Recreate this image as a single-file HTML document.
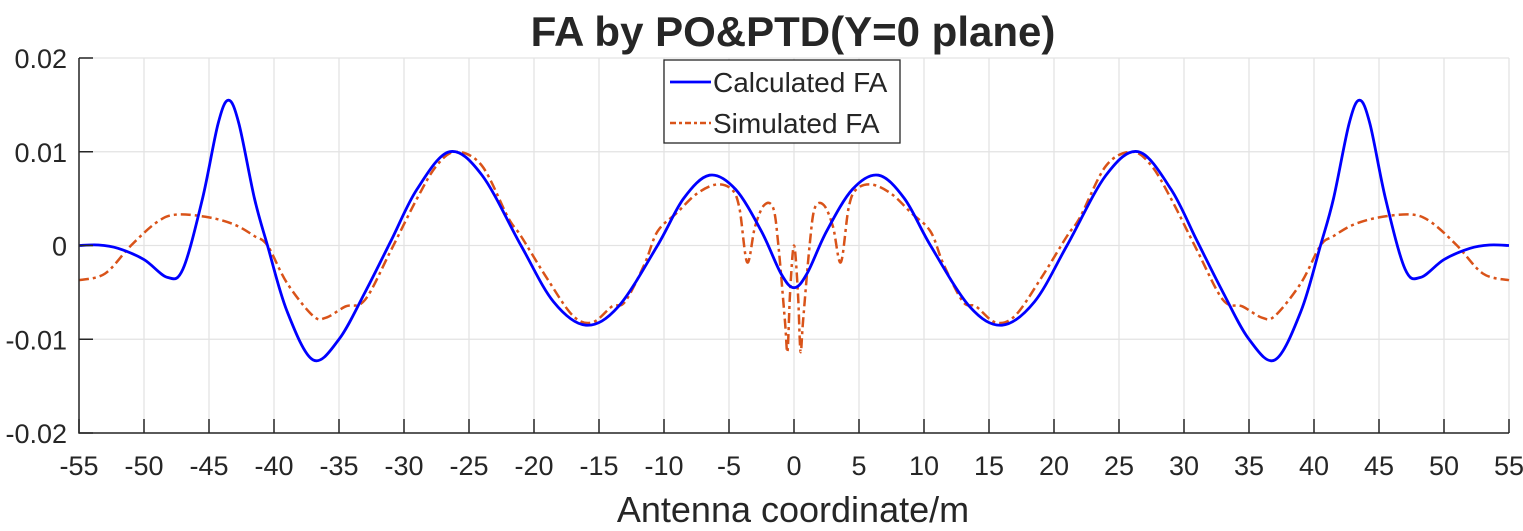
<!DOCTYPE html>
<html><head><meta charset="utf-8"><style>
body{margin:0;background:#fff;}
svg text{font-family:"Liberation Sans",sans-serif;fill:#262626;}
</style></head><body>
<svg id="s" width="1523" height="526" xmlns="http://www.w3.org/2000/svg">
<text x="793" y="46" font-size="42" font-weight="bold" text-anchor="middle" fill="#000">FA by PO&amp;PTD(Y=0 plane)</text>
<g id="grid" stroke="#e3e3e3" stroke-width="1.3"></g>
<g id="lab" font-size="27"></g>
<path id="orange" fill="none" stroke="#d95319" stroke-width="2.5" stroke-dasharray="10,4,3,4"/>
<path id="blue" fill="none" stroke="#0000ff" stroke-width="2.8"/>
<g stroke="#262626" stroke-width="1.5" fill="none"><path d="M79,58 V433 H1509"/></g>
<g id="ticks" stroke="#262626" stroke-width="1.5"></g>
<text x="793" y="522" font-size="36" text-anchor="middle">Antenna coordinate/m</text>
<rect x="664" y="60" width="236" height="83" fill="#fff" stroke="#262626" stroke-width="1.3"/>
<line x1="670" y1="82" x2="711" y2="82" stroke="#0000ff" stroke-width="2.8"/>
<line x1="670" y1="123" x2="711" y2="123" stroke="#d95319" stroke-width="2.5" stroke-dasharray="6,3,3,3"/>
<text x="713" y="92" font-size="28" fill="#000">Calculated FA</text>
<text x="713" y="133" font-size="28" fill="#000">Simulated FA</text>
</svg>
<script>
const X=v=>79+(v+55)*13, Y=v=>245.5-v/1000*9375;
const ns="http://www.w3.org/2000/svg";
function el(p,t,a,txt){const e=document.createElementNS(ns,t);for(const k in a)e.setAttribute(k,a[k]);if(txt)e.textContent=txt;document.getElementById(p).appendChild(e);}
for(let v=-55;v<=55;v+=5){const x=X(v);el('grid','line',{x1:x,y1:58,x2:x,y2:433});el('ticks','line',{x1:x,y1:433,x2:x,y2:419});el('lab','text',{x:x,y:475,'text-anchor':'middle'},String(v));}
[[0.02,'0.02'],[0.01,'0.01'],[0,'0'],[-0.01,'-0.01'],[-0.02,'-0.02']].forEach(([v,s])=>{const y=Y(v*1000);el('grid','line',{x1:79,y1:y,x2:1509,y2:y});el('ticks','line',{x1:79,y1:y,x2:93,y2:y});el('lab','text',{x:67,y:y+10,'text-anchor':'end'},s);});
function sym(h){const r=h.slice();for(let i=h.length-2;i>=0;i--)r.push([-h[i][0],h[i][1]]);return r;}
const B=sym([[-55,0],[-53.5,0.05],[-52,-0.3],[-50,-1.5],[-48.2,-3.4],[-47,-2.5],[-45.5,5],[-44.3,13],[-43.5,15.5],[-42.7,13],[-41.5,5],[-40.5,0],[-39,-7],[-37,-12.2],[-35,-10],[-33,-5],[-31,0.5],[-29,6],[-26.5,10],[-24,7.5],[-21,0],[-18.5,-6],[-16,-8.5],[-13.5,-6.5],[-10.5,0],[-8.5,5],[-6.5,7.5],[-4.5,6],[-2.5,1.5],[-1,-3],[0,-4.5]]);
const O=sym([[-55,-3.7],[-53,-3],[-51,0],[-49,2.5],[-47.5,3.3],[-45,3],[-43,2.2],[-41.5,1],[-40.5,0],[-39,-4],[-37,-7.5],[-36,-7.7],[-34.5,-6.5],[-33,-5.8],[-31,-0.5],[-29,5],[-27.5,8.5],[-26,10],[-24,8.5],[-22,3],[-21,1],[-19,-3.5],[-17,-7.5],[-15.5,-8.2],[-14,-6.5],[-13,-6],[-11.5,-2],[-10.5,1.5],[-9,3.5],[-7.5,5.5],[-6,6.5],[-4.8,6],[-4.2,4],[-3.6,-1.8],[-3,2],[-2.3,4.3],[-1.6,4],[-1.2,0],[-0.7,-8],[-0.5,-11.3],[-0.3,-5],[0,0]]);
function path(pts){const p=pts.map(([a,b])=>[X(a),Y(b)]);let d=`M${p[0][0]},${p[0][1]}`;for(let i=0;i<p.length-1;i++){const p0=p[i-1]||p[i],p1=p[i],p2=p[i+1],p3=p[i+2]||p2;d+=` C${p1[0]+(p2[0]-p0[0])/6},${p1[1]+(p2[1]-p0[1])/6} ${p2[0]-(p3[0]-p1[0])/6},${p2[1]-(p3[1]-p1[1])/6} ${p2[0]},${p2[1]}`;}return d;}
document.getElementById('blue').setAttribute('d',path(B));
document.getElementById('orange').setAttribute('d',path(O));
</script>
</body></html>
